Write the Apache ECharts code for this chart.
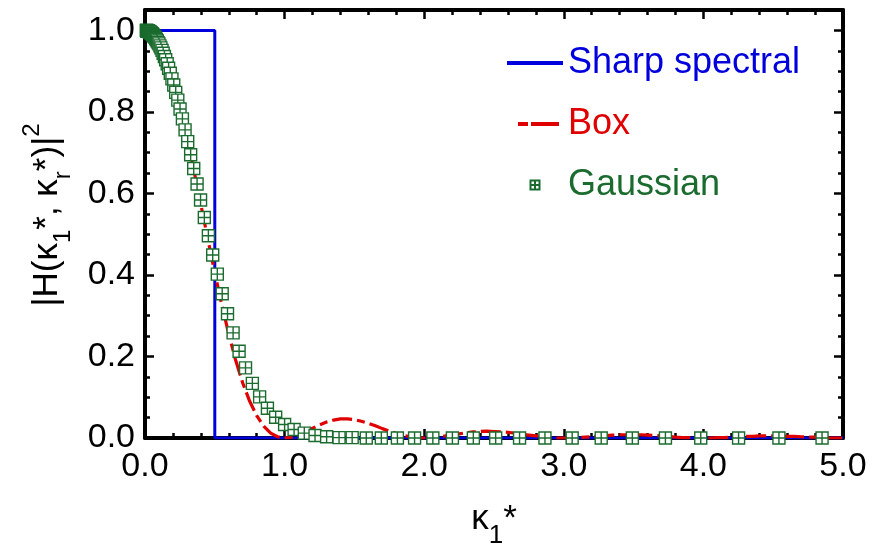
<!DOCTYPE html>
<html><head><meta charset="utf-8">
<script src="https://cdn.jsdelivr.net/npm/echarts@6/dist/echarts.min.js"></script>
<style>html,body{margin:0;padding:0;background:#fff}#c{width:873px;height:544px}</style>
</head><body><div id="c"></div>
<script>
// ---- data ----
const seriesNames = ['Sharp spectral', 'Box', 'Gaussian'];
const sharpPts = [[0, 1], [0.5, 1], [0.5, 0], [5, 0]];
const boxPts = [
 [0,1.000],[0.05,0.992],[0.1,0.968],[0.15,0.928],[0.2,0.875],[0.25,0.811],[0.3,0.737],[0.35,0.657],[0.4,0.573],[0.45,0.488],
 [0.5,0.405],[0.55,0.327],[0.6,0.255],[0.65,0.190],[0.7,0.135],[0.75,0.090],[0.8,0.055],[0.85,0.029],[0.9,0.012],[0.95,0.003],
 [1.0,0.000],[1.05,0.002],[1.1,0.008],[1.15,0.016],[1.2,0.024],[1.25,0.032],[1.3,0.039],[1.35,0.044],[1.4,0.047],[1.45,0.047],
 [1.5,0.045],[1.55,0.041],[1.6,0.036],[1.65,0.030],[1.7,0.023],[1.75,0.017],[1.8,0.011],[1.85,0.006],[1.9,0.003],[1.95,0.001],
 [2.0,0.000],[2.05,0.001],[2.1,0.002],[2.15,0.005],[2.2,0.007],[2.25,0.010],[2.3,0.013],[2.35,0.015],[2.4,0.016],[2.45,0.017],
 [2.5,0.016],[2.55,0.015],[2.6,0.014],[2.65,0.012],[2.7,0.009],[2.75,0.007],[2.8,0.005],[2.85,0.003],[2.9,0.001],[2.95,0.000],
 [3.0,0.000],[3.05,0.000],[3.1,0.001],[3.15,0.002],[3.2,0.003],[3.25,0.005],[3.3,0.006],[3.35,0.007],[3.4,0.008],[3.45,0.008],
 [3.5,0.008],[3.55,0.008],[3.6,0.007],[3.65,0.006],[3.7,0.005],[3.75,0.004],[3.8,0.002],[3.85,0.001],[3.9,0.001],[3.95,0.000],
 [4.0,0.000],[4.05,0.000],[4.1,0.001],[4.15,0.001],[4.2,0.002],[4.25,0.003],[4.3,0.004],[4.35,0.004],[4.4,0.005],[4.45,0.005],
 [4.5,0.005],[4.55,0.005],[4.6,0.004],[4.65,0.004],[4.7,0.003],[4.75,0.002],[4.8,0.002],[4.85,0.001],[4.9,0.000],[4.95,0.000],
 [5.0,0.000]
];
const gaussK = [
 0.010,0.011,0.012,0.013,0.014,0.015,0.016,0.017,0.018,0.019,
 0.021,0.022,0.024,0.025,0.027,0.029,0.031,0.033,0.035,0.037,
 0.040,0.043,0.045,0.049,0.052,0.055,0.059,0.063,0.067,0.072,
 0.077,0.082,0.088,0.094,0.100,0.107,0.114,0.122,0.130,0.139,
 0.148,0.159,0.169,0.181,0.193,0.206,0.220,0.235,0.251,0.268,
 0.287,0.306,0.327,0.349,0.373,0.398,0.425,0.454,0.485,0.518,
 0.553,0.591,0.631,0.674,0.720,0.769,0.821,0.877,0.936,1.000,
 1.068,1.141,1.218,1.301,1.390,1.484,1.585,1.693,1.808,1.931,
 2.062,2.202,2.352,2.512,2.683,2.865,3.060,3.268,3.491,3.728,
 3.981,4.252,4.541,4.850
];
const gaussH = [
 1.000,1.000,1.000,0.999,0.999,0.999,0.999,0.999,0.999,0.999,
 0.999,0.998,0.998,0.998,0.998,0.997,0.997,0.996,0.996,0.995,
 0.995,0.994,0.993,0.992,0.991,0.990,0.988,0.987,0.985,0.983,
 0.980,0.977,0.974,0.970,0.967,0.962,0.957,0.951,0.944,0.936,
 0.928,0.918,0.907,0.895,0.881,0.866,0.848,0.829,0.807,0.783,
 0.756,0.727,0.695,0.661,0.623,0.584,0.541,0.496,0.449,0.402,
 0.354,0.305,0.258,0.213,0.172,0.134,0.101,0.073,0.051,0.033,
 0.021,0.012,0.006,0.003,0.001,0.001,0.000,0.000,0.000,0.000,
 0.000,0.000,0.000,0.000,0.000,0.000,0.000,0.000,0.000,0.000,
 0.000,0.000,0.000,0.000
];
const xTickLabels = ['0.0','1.0','2.0','3.0','4.0','5.0'];
const yTickLabels = ['0.0','0.2','0.4','0.6','0.8','1.0'];

// ---- chart ----
const FONT = '"Liberation Sans", Arial, sans-serif';
const BLUE = '#0000dd', RED = '#e00000', GREEN = '#1a6b2e';
const gaussPts = gaussK.map((k, i) => [k, gaussH[i]]);

const frameLine = () => ({ show: true, onZero: false, lineStyle: { color: '#000', width: 4 } });
const noLine = () => ({ show: false, onZero: false });
const majorTick = () => ({ show: true, inside: true, length: 9, lineStyle: { color: '#000', width: 2.5 } });
const minorTickAx = () => ({ show: true, inside: true, length: 5, lineStyle: { color: '#000', width: 2.5 } });
const xMinor = () => ({ show: true, splitNumber: 5, length: 5, lineStyle: { color: '#000', width: 2.5 } });

function xLabel(v) { const i = Math.round(v); return Math.abs(v - i) < 1e-6 && xTickLabels[i] !== undefined ? xTickLabels[i] : ''; }
function yLabel(v) { const i = Math.round(v * 5); return Math.abs(v * 5 - i) < 1e-6 && yTickLabels[i] !== undefined ? yTickLabels[i] : ''; }

const hideSym = { opacity: 0, color: 'transparent', borderWidth: 0 };

const chart = echarts.init(document.getElementById('c'), null, { renderer: 'canvas' });
chart.setOption({
  animation: false,
  backgroundColor: '#fff',
  textStyle: { fontFamily: FONT },
  grid: { left: 145, right: 30, top: 10, bottom: 106, containLabel: false, outerBoundsMode: 'none' },
  legend: {
    orient: 'vertical', left: 500, top: 38,
    itemWidth: 56, itemHeight: 9, itemGap: 21,
    textStyle: { fontSize: 36, lineHeight: 40, fontFamily: FONT },
    data: [
      { name: 'Sharp spectral', textStyle: { color: BLUE }, itemStyle: hideSym, lineStyle: { width: 4 } },
      { name: 'Box', textStyle: { color: RED }, itemStyle: hideSym, lineStyle: { width: 4, type: [0.01, 11, 10, 3, 28, 60] } },
      { name: 'Gaussian', textStyle: { color: GREEN } }
    ]
  },
  xAxis: [
    {
      type: 'value', min: 0, max: 5, interval: 1, position: 'bottom',
      axisLine: frameLine(), axisTick: majorTick(), minorTick: xMinor(),
      splitLine: { show: false }, minorSplitLine: { show: false },
      axisLabel: { formatter: xLabel, fontSize: 34, color: '#000', margin: 12, fontFamily: FONT },
      name: '{k|κ}{s|1}{k|*}', nameLocation: 'middle', nameGap: 43,
      nameTextStyle: {
        rich: {
          k: { fontSize: 35, lineHeight: 40, color: '#000', fontFamily: FONT },
          s: { fontSize: 26, lineHeight: 26, padding: [34, 0, 0, 0], color: '#000', fontFamily: FONT }
        }
      }
    },
    {
      type: 'value', min: 0, max: 5, interval: 1, position: 'top',
      axisLine: frameLine(), axisTick: majorTick(), minorTick: xMinor(),
      splitLine: { show: false }, axisLabel: { show: false }
    }
  ],
  yAxis: [
    {
      type: 'value', min: 0, max: 1.05, interval: 0.2, position: 'left',
      axisLine: frameLine(), axisTick: majorTick(), splitLine: { show: false },
      axisLabel: { formatter: yLabel, fontSize: 34, color: '#000', margin: 10, fontFamily: FONT },
      name: '{m||H(κ}{s|1}{m|*, κ}{s|r}{m|*)|}{p|2}', nameLocation: 'middle', nameRotate: 90, nameGap: 78,
      nameTextStyle: {
        padding: [0, 0, 0, 18],
        rich: {
          m: { fontSize: 35, lineHeight: 40, color: '#000', fontFamily: FONT },
          s: { fontSize: 24, lineHeight: 24, padding: [32, 0, 0, 0], color: '#000', fontFamily: FONT },
          p: { fontSize: 24, lineHeight: 24, padding: [0, 0, 30, 0], color: '#000', fontFamily: FONT }
        }
      }
    },
    {
      type: 'value', min: 0, max: 1.05, interval: 0.05, position: 'left',
      axisLine: noLine(), axisTick: minorTickAx(), splitLine: { show: false }, axisLabel: { show: false }
    },
    {
      type: 'value', min: 0, max: 1.05, interval: 0.2, position: 'right',
      axisLine: frameLine(), axisTick: majorTick(), splitLine: { show: false }, axisLabel: { show: false }
    },
    {
      type: 'value', min: 0, max: 1.05, interval: 0.05, position: 'right',
      axisLine: noLine(), axisTick: minorTickAx(), splitLine: { show: false }, axisLabel: { show: false }
    }
  ],
  series: [
    {
      name: seriesNames[0], type: 'line', data: sharpPts, symbol: 'none', z: 3,
      lineStyle: { color: BLUE, width: 3 }, itemStyle: { color: BLUE }
    },
    {
      name: seriesNames[1], type: 'line', data: boxPts, symbol: 'none', z: 4,
      lineStyle: { color: RED, width: 3.2, type: [20, 5, 8, 5] }, itemStyle: { color: RED }
    },
    {
      name: seriesNames[2], type: 'scatter', data: gaussPts, z: 5,
      symbol: 'path://M0,0L12,0L12,12L0,12Z M6,0L6,12 M0,6L12,6', symbolSize: 12,
      itemStyle: { color: '#ffffff', borderColor: GREEN, borderWidth: 1.4, opacity: 1 }
    }
  ]
});
</script></body></html>
